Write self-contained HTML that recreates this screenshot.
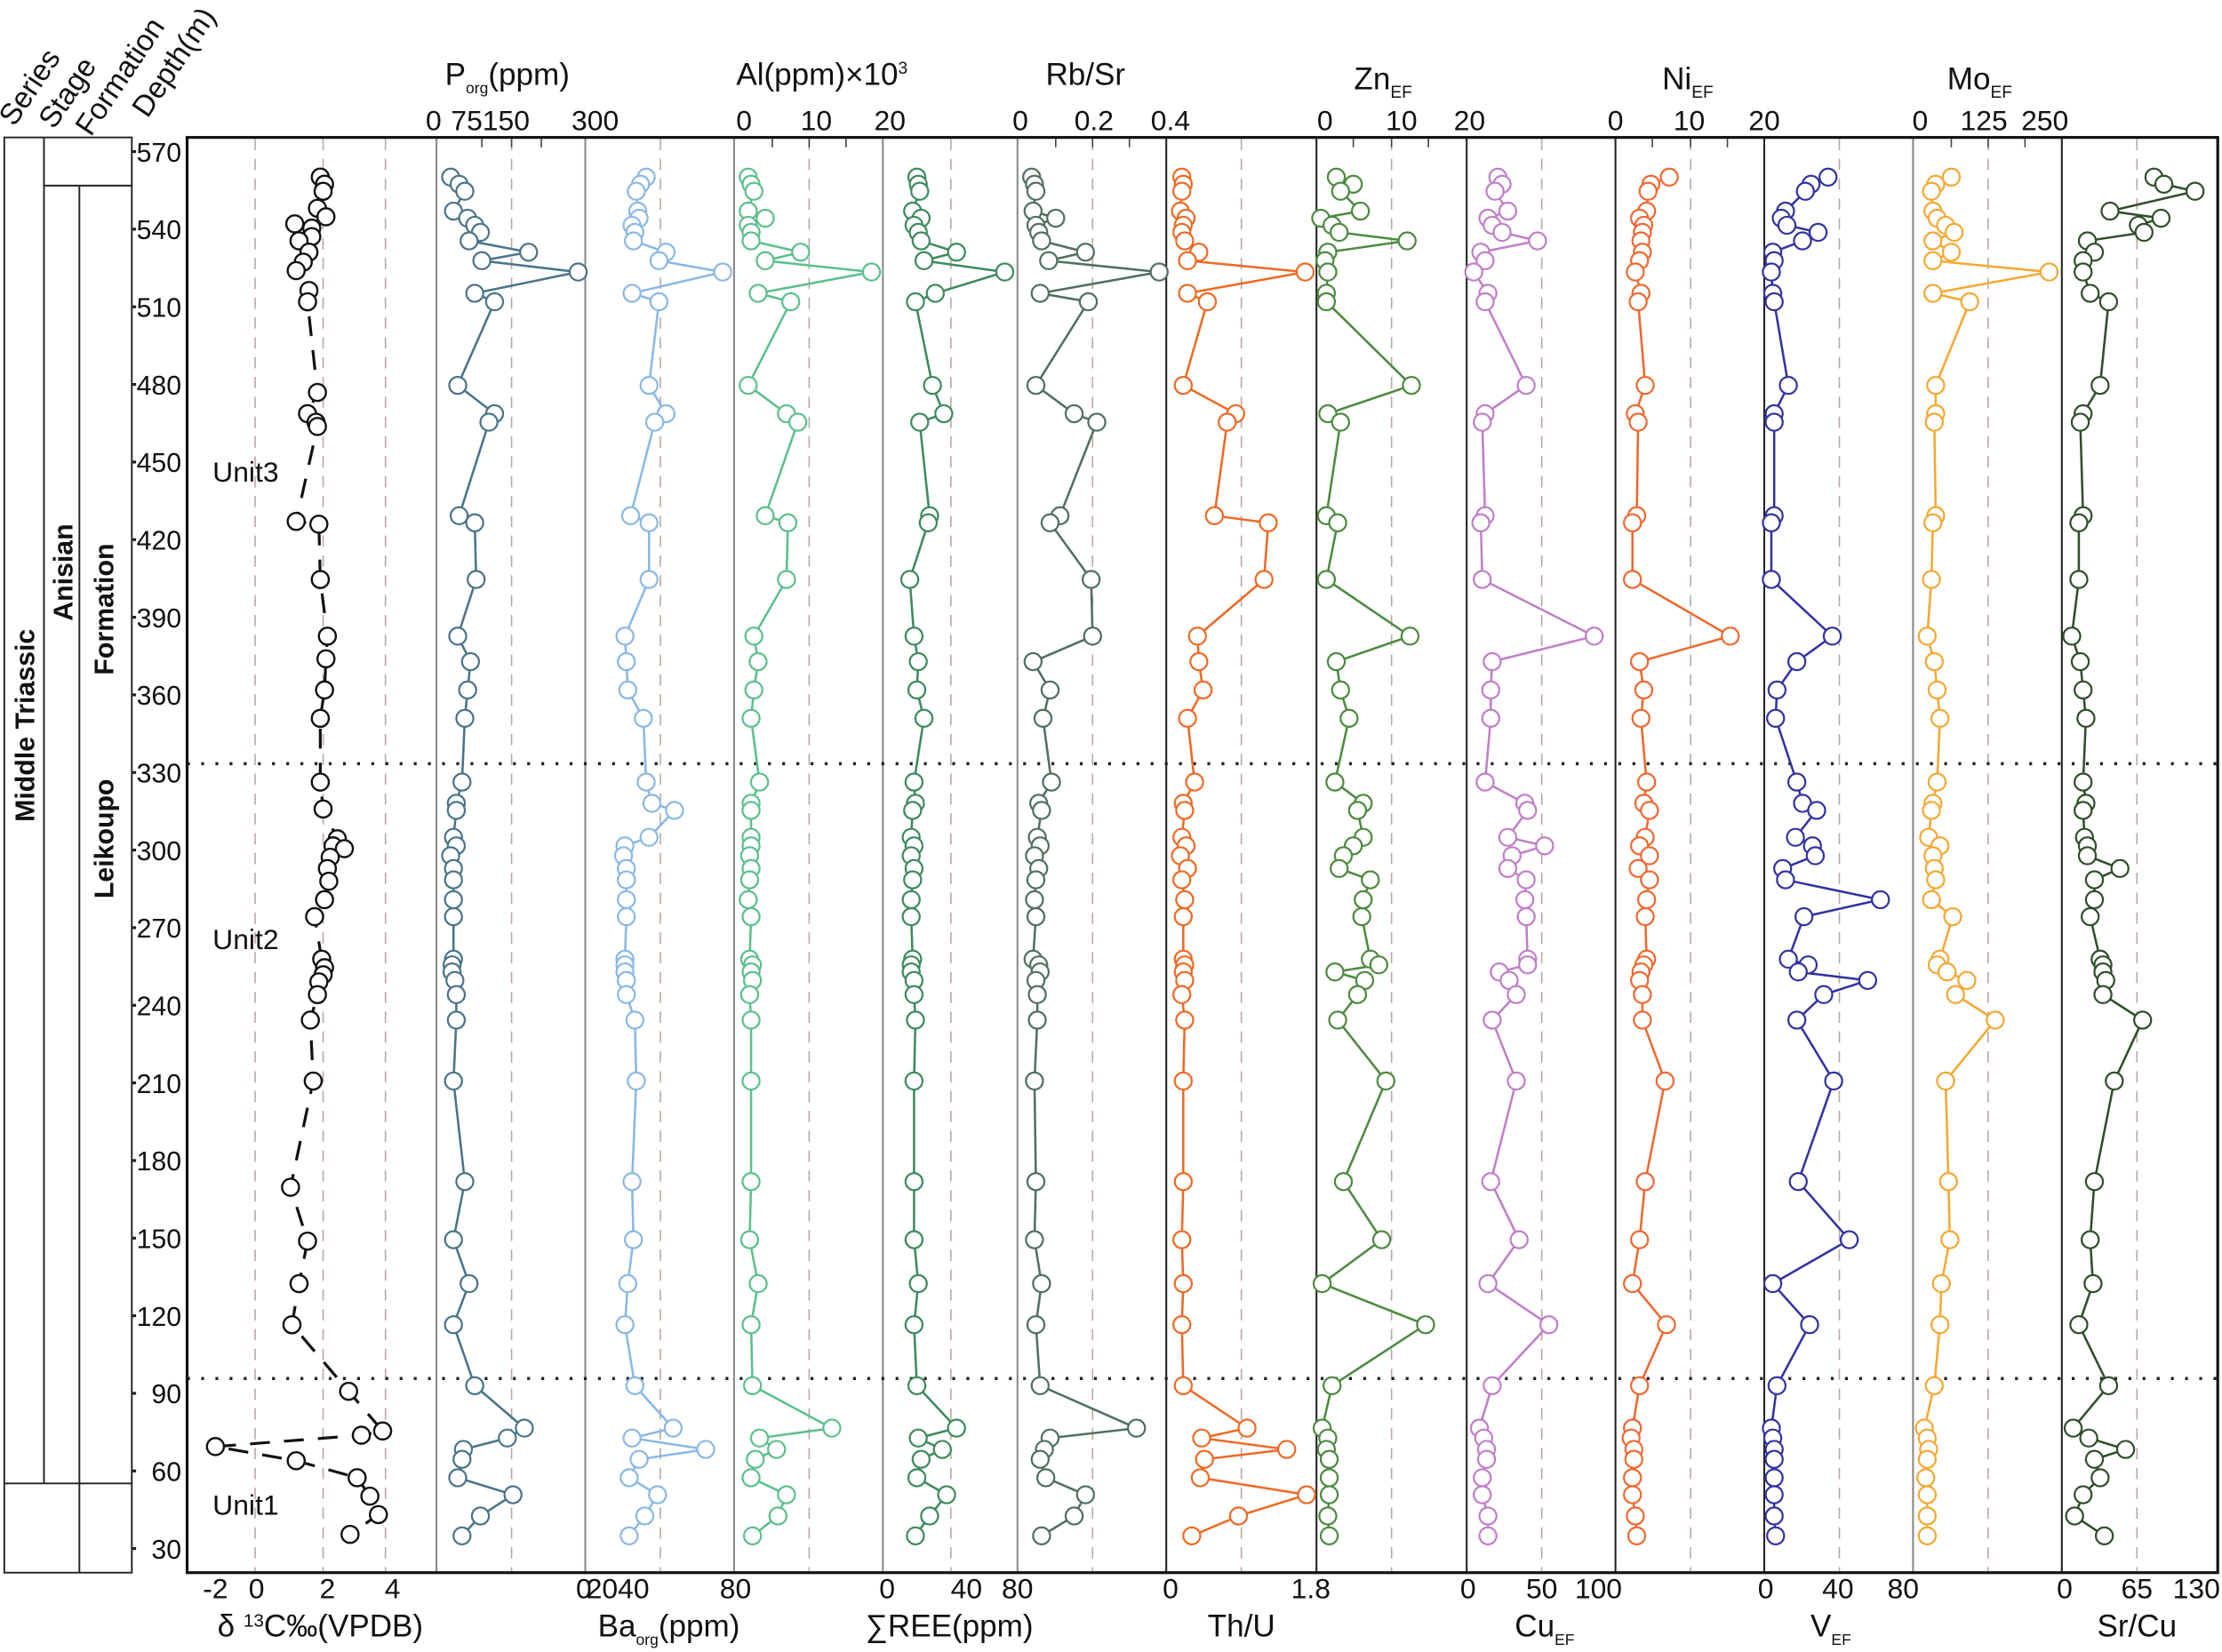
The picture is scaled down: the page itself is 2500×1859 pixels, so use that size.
<!DOCTYPE html>
<html><head><meta charset="utf-8">
<style>
html,body{margin:0;padding:0;background:#fff;}
svg{display:block;}
text{font-family:"Liberation Sans Narrow","Liberation Sans",sans-serif;fill:#111;}
</style></head>
<body>
<svg id="s" width="2500" height="1859" viewBox="0 0 1568 1166" xmlns="http://www.w3.org/2000/svg">
<rect x="0" y="0" width="1568" height="1166" fill="#fff"/>
<g fill="none" stroke="#222" stroke-width="1.2">
<rect x="3" y="97" width="90" height="1013"/>
<line x1="31" y1="97" x2="31" y2="1047"/>
<line x1="31" y1="131" x2="93" y2="131"/>
<line x1="56" y1="131" x2="56" y2="1110"/>
<line x1="3" y1="1047" x2="93" y2="1047"/>
</g>
<g font-weight="bold" font-size="19">
<text transform="translate(24,512) rotate(-90)" text-anchor="middle">Middle Triassic</text>
<text transform="translate(51,404) rotate(-90)" text-anchor="middle">Anisian</text>
<text transform="translate(80,430) rotate(-90)" text-anchor="middle">Formation</text>
<text transform="translate(80,592) rotate(-90)" text-anchor="middle">Leikoupo</text>
</g>
<g font-size="21">
<text transform="translate(10,90) rotate(-56)">Series</text>
<text transform="translate(38,92) rotate(-56)">Stage</text>
<text transform="translate(64,97) rotate(-56)">Formation</text>
<text transform="translate(104,84) rotate(-56)">Depth(m)</text>
</g>
<g id="g"></g>
<rect x="132" y="97" width="1433" height="1013" fill="none" stroke="#111" stroke-width="2"/>
<g font-size="19" text-anchor="end" id="depth"></g>
<g font-size="20">
<text x="150" y="340">Unit3</text>
<text x="150" y="670">Unit2</text>
<text x="150" y="1069">Unit1</text>
</g>
<g font-size="22" text-anchor="middle">
<text x="358" y="60">P<tspan font-size="11" dy="6">org</tspan><tspan dy="-6">(ppm)</tspan></text>
<text x="580" y="60">Al(ppm)×10<tspan font-size="12" dy="-8">3</tspan></text>
<text x="766" y="60">Rb/Sr</text>
<text x="976" y="63">Zn<tspan font-size="12" dy="6">EF</tspan></text>
<text x="1191" y="63">Ni<tspan font-size="12" dy="6">EF</tspan></text>
<text x="1397" y="63">Mo<tspan font-size="12" dy="6">EF</tspan></text>
</g>
<g font-size="20" text-anchor="middle">
<text x="306" y="92">0</text><text x="346" y="92">75150</text><text x="420" y="92">300</text>
<text x="525" y="92">0</text><text x="576" y="92">10</text><text x="628" y="92">20</text>
<text x="720" y="92">0</text><text x="772" y="92">0.2</text><text x="826" y="92">0.4</text>
<text x="935" y="92">0</text><text x="989" y="92">10</text><text x="1037" y="92">20</text>
<text x="1140" y="92">0</text><text x="1192" y="92">10</text><text x="1245" y="92">20</text>
<text x="1355" y="92">0</text><text x="1400" y="92">125</text><text x="1443" y="92">250</text>
</g>
<g font-size="20" text-anchor="middle">
<text x="152" y="1128">-2</text><text x="181" y="1128">0</text><text x="231" y="1128">2</text><text x="277" y="1128">4</text>
<text x="412" y="1128">0</text><text x="436" y="1128">2040</text><text x="519" y="1128">80</text>
<text x="626" y="1128">0</text><text x="682" y="1128">40</text><text x="718" y="1128">80</text>
<text x="826" y="1128">0</text><text x="925" y="1128">1.8</text>
<text x="1036" y="1128">0</text><text x="1088" y="1128">50</text><text x="1128" y="1128">100</text>
<text x="1246" y="1128">0</text><text x="1297" y="1128">40</text><text x="1343" y="1128">80</text>
<text x="1457" y="1128">0</text><text x="1508" y="1128">65</text><text x="1550" y="1128">130</text>
</g>
<g font-size="22" text-anchor="middle">
<text x="226" y="1155">δ <tspan font-size="13" dy="-7">13</tspan><tspan dy="7">C‰(VPDB)</tspan></text>
<text x="472" y="1155">Ba<tspan font-size="11" dy="6">org</tspan><tspan dy="-6">(ppm)</tspan></text>
<text x="670" y="1155">∑REE(ppm)</text>
<text x="876" y="1155">Th/U</text>
<text x="1090" y="1155">Cu<tspan font-size="11" dy="6">EF</tspan></text>
<text x="1292" y="1155">V<tspan font-size="11" dy="6">EF</tspan></text>
<text x="1508" y="1155">Sr/Cu</text>
</g>
</svg>
<script>
var NS="http://www.w3.org/2000/svg",g=document.getElementById('g');
function el(t,a,p){var e=document.createElementNS(NS,t);for(var k in a)e.setAttribute(k,a[k]);(p||g).appendChild(e);return e;}
[[308,'#888'],[413,'#888'],[518,'#888'],[623,'#888'],[718,'#888'],[823,'#222'],[929,'#222'],[1035,'#222'],[1140,'#222'],[1245,'#222'],[1350,'#888'],[1455,'#222']].forEach(function(l){
 el('line',{x1:l[0],y1:97,x2:l[0],y2:1110,stroke:l[1],'stroke-width':1.3});});
[180,228,272,361,466,571,671,771,876,982,1088,1193,1298,1403,1508].forEach(function(x){
 el('line',{x1:x,y1:98,x2:x,y2:1109,stroke:'#b8a8a2','stroke-width':1,'stroke-dasharray':'8 6'});});
[340,361,382,545,571,597,745,771,797,955,982,1008,1166,1193,1219,1377,1403,1429].forEach(function(x){
 el('line',{x1:x,y1:98,x2:x,y2:104,stroke:'#444','stroke-width':1});});
[539,973].forEach(function(y){el('line',{x1:132,y1:y,x2:1565,y2:y,stroke:'#222','stroke-width':2.2,'stroke-dasharray':'2 8'});});
var dg=document.getElementById('depth');
for(var d=570;d>=30;d-=30){var y=107+(570-d)*(1093-107)/540;
 el('line',{x1:93,y1:y,x2:96,y2:y,stroke:'#222','stroke-width':2});
 var t=el('text',{x:128,y:y+7},dg);t.textContent=d;}
var Y=[125,130,135,149,154,159,164,170,178,184,192,207,213,272,292,298,364,369,409,449,467,487,507,552,567,572,591,597,604,613,621,635,647,677,681,686,692,702,720,763,834,875,906,935,978,1008,1015,1023,1030,1043,1055,1070,1084];
var S=[
['#4a7488',[318,324,328,320,330,335,339,331,373,340,408,335,349,323,349,345,324,335,336,323,332,330,328,326,322,322,320,322,318,320,320,320,320,320,319,319,321,322,322,320,328,320,331,320,335,370,358,327,326,323,362,339,326]],
['#8ab8e6',[456,452,449,450,451,446,448,447,470,465,510,446,465,458,470,462,445,458,458,441,442,443,454,456,460,476,458,441,440,442,442,442,442,441,441,441,442,442,448,449,446,447,443,441,448,475,446,498,451,444,464,455,444]],
['#5cbf8e',[528,530,532,528,540,528,530,530,565,540,615,535,558,528,555,563,540,556,555,532,535,532,530,536,530,530,530,530,529,530,529,528,530,529,531,530,531,529,530,530,530,529,535,530,531,587,536,548,533,530,555,549,531]],
['#3d8a5e',[647,648,649,644,650,645,648,650,675,652,709,660,646,658,666,649,656,655,642,645,648,647,652,645,646,644,643,645,643,645,644,643,643,644,643,643,645,645,646,645,645,645,648,645,647,675,648,665,650,647,668,656,646]],
['#50705f',[728,730,731,729,745,731,733,735,766,740,818,734,768,731,758,774,748,741,770,771,729,741,736,742,733,735,732,734,730,733,731,730,731,729,733,734,731,732,732,730,731,730,735,731,734,802,741,737,734,738,766,758,735]],
['#ee6a24',[834,835,834,833,837,835,834,836,846,838,921,838,852,835,872,866,857,895,892,845,846,849,838,843,835,836,834,837,833,838,834,836,835,835,836,835,836,834,836,835,835,834,835,834,835,880,848,908,850,847,922,874,841]],
['#4d8a40',[943,955,946,960,932,940,945,993,937,935,937,936,936,996,937,946,936,944,936,995,943,946,952,942,962,958,962,955,948,945,967,962,961,967,973,942,963,958,944,978,948,975,933,1006,940,933,937,936,938,938,938,937,938]],
['#c07fc8',[1057,1060,1055,1064,1050,1053,1060,1085,1045,1048,1040,1050,1048,1077,1048,1046,1048,1045,1046,1125,1053,1052,1052,1048,1076,1078,1064,1090,1067,1064,1077,1076,1077,1078,1078,1058,1065,1070,1053,1070,1052,1072,1050,1093,1053,1044,1047,1049,1049,1046,1046,1050,1050]],
['#f06830',[1178,1165,1163,1162,1157,1160,1159,1158,1159,1157,1154,1158,1156,1161,1154,1156,1155,1152,1152,1221,1157,1160,1158,1162,1160,1164,1161,1157,1164,1156,1164,1162,1161,1162,1160,1158,1157,1159,1159,1175,1161,1157,1152,1176,1157,1152,1151,1153,1153,1152,1152,1154,1155]],
['#3333a0',[1290,1278,1274,1260,1257,1261,1283,1272,1251,1252,1250,1251,1252,1262,1252,1252,1252,1250,1250,1293,1268,1254,1253,1268,1272,1282,1267,1279,1281,1258,1260,1327,1273,1262,1276,1269,1318,1287,1268,1294,1269,1305,1251,1277,1254,1250,1251,1252,1252,1252,1252,1252,1253]],
['#f5a832',[1377,1366,1363,1364,1367,1373,1379,1364,1377,1364,1446,1364,1390,1366,1366,1365,1366,1364,1363,1360,1365,1367,1369,1367,1364,1363,1361,1369,1364,1365,1366,1363,1378,1369,1367,1374,1388,1380,1408,1373,1375,1376,1370,1369,1365,1358,1360,1361,1360,1359,1360,1360,1360]],
['#2f4f2a',[1520,1527,1549,1489,1525,1509,1513,1473,1478,1470,1470,1475,1488,1482,1470,1468,1470,1467,1467,1462,1468,1470,1472,1470,1472,1470,1471,1473,1473,1496,1478,1478,1475,1482,1484,1484,1486,1484,1512,1492,1478,1475,1477,1467,1488,1463,1474,1500,1478,1482,1470,1464,1485]]
];
S.forEach(function(s){
 var pts=Y.map(function(y,i){return s[1][i]+','+y;});
 el('polyline',{points:pts.join(' '),fill:'none',stroke:s[0],'stroke-width':1.6});
 Y.forEach(function(y,i){el('circle',{cx:s[1][i],cy:y,r:6,fill:'#fff',stroke:s[0],'stroke-width':1.4});});
});
var C=[[125,226],[130,229],[135,228],[147,224],[153,230],[158,208],[161,220],[167,220],[170,211],[178,218],[185,214],[191,209],[205,218],[213,217],[277,224],[292,217],[298,223],[301,224],[368,209],[370,225],[409,226],[449,231],[465,230],[487,229],[507,226],[552,226],[571,228],[592,238],[597,235],[599,243],[605,233],[613,231],[622,232],[635,229],[647,222],[677,227],[683,229],[688,228],[693,225],[702,224],[720,219],[763,221],[838,205],[876,217],[906,211],[935,206],[982,246],[1010,270],[1013,255],[1021,152],[1031,209],[1043,252],[1056,261],[1069,267],[1083,247]];
el('polyline',{points:C.map(function(p){return p[1]+','+p[0];}).join(' '),fill:'none',stroke:'#111','stroke-width':2,'stroke-dasharray':'14 10'});
C.forEach(function(p){el('circle',{cx:p[1],cy:p[0],r:6,fill:'#fff',stroke:'#111','stroke-width':1.5});});
</script>
</body></html>
